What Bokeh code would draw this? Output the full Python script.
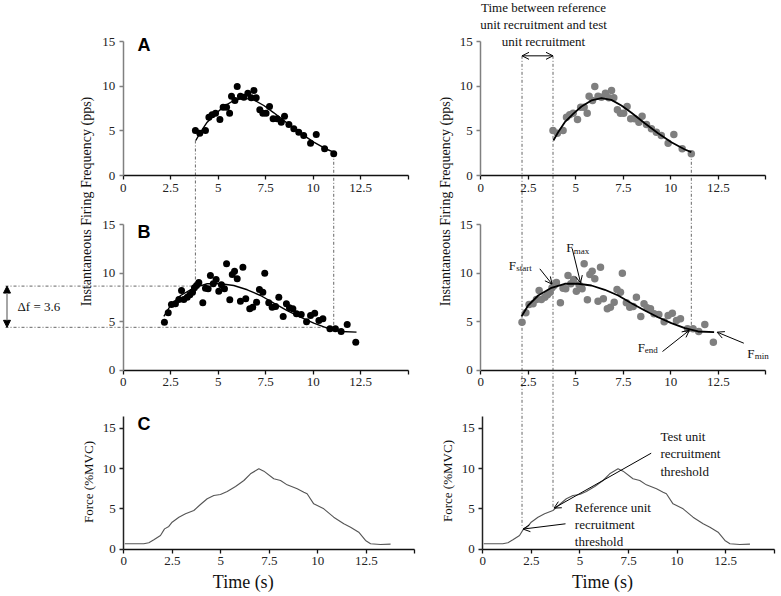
import numpy as np
from bokeh.plotting import figure
from bokeh.models import Range1d, LinearAxis, FixedTicker, Label, Arrow, OpenHead, NormalHead
from bokeh.embed import file_html
from bokeh.resources import INLINE

# ---------------- data ----------------
# test unit (panel A): time (s) and instantaneous firing frequency (pps)
test_t = [3.80, 4.03, 4.33, 4.51, 4.68, 4.86, 5.09, 5.26, 5.44, 5.60, 5.70, 5.88,
          6.00, 6.17, 6.35, 6.56, 6.74, 6.88, 7.00, 7.19, 7.35, 7.52, 7.70, 7.89,
          8.10, 8.32, 8.49, 8.72, 8.98, 9.24, 9.50, 9.86, 10.16, 10.60, 11.08]
test_f = [5.04, 4.74, 5.04, 6.53, 6.80, 6.98, 6.27, 7.65, 7.65, 6.98, 8.88, 8.40,
          9.97, 8.88, 8.77, 9.20, 8.70, 9.52, 8.70, 7.36, 6.98, 6.98, 7.73, 6.35,
          6.35, 5.97, 6.64, 5.71, 5.23, 4.85, 4.48, 3.62, 4.59, 2.99, 2.43]
test_fit_t = [3.82, 4.07, 4.42, 4.86, 5.30, 5.82, 6.35, 6.87, 7.40, 7.93, 8.63, 9.33, 10.03, 10.74, 11.08]
test_fit_f = [3.92, 4.85, 5.97, 6.90, 7.73, 8.40, 8.66, 8.47, 7.84, 7.02, 5.86, 4.74, 3.73, 2.91, 2.61]

# reference unit (panel B)
ref_t = [2.17, 2.37, 2.54, 2.75, 2.93, 3.07, 3.19, 3.37, 3.51, 3.65, 3.75, 3.86,
         3.98, 4.19, 4.33, 4.47, 4.59, 4.74, 4.89, 5.03, 5.17, 5.33, 5.44, 5.61,
         5.74, 5.86, 6.00, 6.17, 6.30, 6.45, 6.66, 6.82, 7.02, 7.17, 7.35, 7.45,
         7.66, 7.84, 8.02, 8.19, 8.42, 8.59, 8.75, 8.93, 9.12, 9.37, 9.65, 9.86,
         10.08, 10.30, 10.51, 10.88, 11.17, 11.47, 11.79, 12.24]
ref_f = [4.93, 5.90, 6.75, 6.82, 7.27, 8.20, 7.27, 7.51, 7.75, 8.02, 8.47, 8.71,
         9.02, 6.93, 8.43, 8.37, 9.74, 8.89, 9.33, 8.12, 8.78, 8.37, 10.95, 7.24,
         9.85, 10.19, 9.40, 7.09, 10.60, 7.34, 6.31, 6.47, 6.99, 8.30, 8.02, 9.98,
         6.93, 6.47, 6.55, 7.51, 5.52, 6.82, 6.41, 6.31, 5.79, 5.72, 4.97, 5.62,
         5.86, 5.10, 5.28, 4.25, 4.25, 3.97, 4.69, 2.87]
ref_fit_t = [2.14, 2.49, 3.02, 3.72, 4.42, 5.12, 5.82, 6.53, 7.23, 7.93, 8.63, 9.33, 10.03, 10.74, 11.44, 12.28]
ref_fit_f = [5.52, 6.65, 7.68, 8.47, 8.89, 8.89, 8.71, 8.27, 7.68, 6.89, 6.13, 5.44, 4.83, 4.31, 3.97, 3.90]

# force trace (panel C), %MVC
force_t = [0.05, 1.03, 1.29, 1.55, 1.89, 2.10, 2.32, 2.49, 2.84, 3.18, 3.61, 3.95,
           4.30, 4.64, 4.98, 5.33, 5.76, 6.19, 6.53, 6.96, 7.22, 7.73, 8.08, 8.42,
           8.94, 9.28, 9.45, 9.79, 10.31, 10.82, 11.34, 11.69, 12.11, 12.46, 12.72, 13.23, 13.75]
force_pct = [0.65, 0.65, 0.77, 1.14, 1.68, 2.50, 2.80, 3.33, 3.95, 4.37, 4.78, 5.53,
             6.24, 6.65, 6.77, 7.14, 7.76, 8.51, 9.34, 9.96, 9.67, 8.72, 8.51, 7.97,
             7.48, 7.06, 6.86, 5.61, 4.99, 3.95, 3.13, 2.71, 2.09, 1.06, 0.65, 0.56, 0.60]

x_ticks = [0, 2.5, 5, 7.5, 10, 12.5, 15]
y_ticks = [0, 5, 10, 15]
f_start = 8.65        # reference-unit rate at test-unit recruitment
f_end = 4.40          # reference-unit rate at test-unit derecruitment
delta_f_text = "Δf = 3.6"
ref_threshold = 2.6   # %MVC
test_threshold = 5.2  # %MVC
f_max_t, f_max = 5.25, 9.0

# ---------------- layout (page pixels; the figure sits at the page origin) ----------------
W, H = 780, 594
PX0, PY0 = 0, 0
COLS = {"L": {"ab": (122.7, 19.0), "c": (123.3, 19.4)},
        "R": {"ab": (480.3, 19.0), "c": (482.3, 19.43)}}
ROWS = {"A": (175.0, 8.93), "B": (369.5, 9.7), "C": (548.5, 8.05)}
YTOP = {"A": 15, "B": 15, "C": 16.4}
ARROW_LEVEL_A = 13.4
SERIF = "Liberation Serif"


def px(col, t, row="A"):
    x0, s = COLS[col]["c" if row == "C" else "ab"]
    return x0 + t * s


def py(row, v):
    y0, s = ROWS[row]
    return y0 - v * s


p = figure(width=W, height=H, output_backend="svg", toolbar_location=None,
           x_axis_location=None, y_axis_location=None, min_border=0,
           x_range=Range1d(PX0, PX0 + W), y_range=Range1d(PY0 + H, PY0),
           outline_line_color=None)
p.grid.visible = False

for col in "LR":
    for key in ("ab", "c"):
        x0, s = COLS[col][key]
        p.extra_x_ranges[f"x{col}{key}"] = Range1d((PX0 - x0) / s, (PX0 + W - x0) / s)
for row, (y0, s) in ROWS.items():
    p.extra_y_ranges[f"y{row}"] = Range1d((y0 - (PY0 + H)) / s, (y0 - PY0) / s)


def style_axis(ax, color, width):
    ax.axis_line_color = color
    ax.axis_line_width = width
    ax.major_tick_line_color = color
    ax.major_tick_line_width = width
    ax.major_tick_in = 0
    ax.major_tick_out = 4
    ax.minor_tick_line_color = None
    ax.major_label_text_font = SERIF
    ax.major_label_text_font_size = "13px"
    ax.major_label_text_color = "#222222"
    ax.major_label_standoff = 4


for col in "LR":
    for row in "ABC":
        xr = f"x{col}{'c' if row == 'C' else 'ab'}"
        yr = f"y{row}"
        xa = LinearAxis(x_range_name=xr, y_range_name=yr, fixed_location=0, bounds=(0, 15),
                        ticker=FixedTicker(ticks=x_ticks), major_label_overrides={15: ""})
        style_axis(xa, "#111111", 1.3)
        p.add_layout(xa, "below")
        ya = LinearAxis(x_range_name=xr, y_range_name=yr, fixed_location=0, bounds=(0, YTOP[row]),
                        ticker=FixedTicker(ticks=y_ticks))
        style_axis(ya, "#808080" if row != "C" else "#222222", 1.5)
        p.add_layout(ya, "left")

# ---------------- connectors (dash-dot guides) ----------------
cx0, cy0, cx1, cy1 = [], [], [], []


def conn(a, b, c, d):
    cx0.append(a); cy0.append(b); cx1.append(c); cy1.append(d)


LEFT_EDGE = 5
xs_l = px("L", test_t[0]); xe_l = px("L", test_t[-1])
conn(xs_l, py("A", test_fit_f[0]), xs_l, py("B", f_start))
conn(xe_l, py("A", test_f[-1]), xe_l, py("B", f_end))
conn(LEFT_EDGE, py("B", f_start), xs_l, py("B", f_start))
conn(LEFT_EDGE, py("B", f_end), xe_l, py("B", f_end))
top_y = py("A", ARROW_LEVEL_A)
xr0 = px("R", ref_t[0]); xr1 = px("R", test_t[0]); xr2 = px("R", test_t[-1])
conn(xr0, top_y, xr0, py("C", ref_threshold))
conn(xr1, top_y, xr1, py("C", test_threshold))
conn(xr2, py("A", test_f[-1]), xr2, py("B", f_end))
p.segment(cx0, cy0, cx1, cy1, line_color="#666666", line_width=1, line_dash="3 2 1 2")

# ---------------- data marks ----------------
for col, color, size, lw in (("L", "black", 7, 1.4), ("R", "#7f7f7f", 7.5, 1.8)):
    p.scatter(test_t, test_f, x_range_name=f"x{col}ab", y_range_name="yA",
              size=size, fill_color=color, line_color=None)
    p.line(test_fit_t, test_fit_f, x_range_name=f"x{col}ab", y_range_name="yA",
           line_color="black", line_width=lw)
    p.scatter(ref_t, ref_f, x_range_name=f"x{col}ab", y_range_name="yB",
              size=size, fill_color=color, line_color=None)
    p.line(ref_fit_t, ref_fit_f, x_range_name=f"x{col}ab", y_range_name="yB",
           line_color="black", line_width=lw)
    p.line(force_t, force_pct, x_range_name=f"x{col}c", y_range_name="yC",
           line_color="#555555", line_width=1.1)

# ---------------- text ----------------


def label(x, y, text, size="13px", font=SERIF, align="left", baseline="middle",
          angle=0, style="normal", color="#111111"):
    p.add_layout(Label(x=x, y=y, text=text, text_font=font, text_font_size=size,
                       text_align=align, text_baseline=baseline, angle=angle,
                       text_font_style=style, text_color=color, text_line_height=1.15))


for letter, yy in (("A", 44.3), ("B", 231), ("C", 423.5)):
    label(143.6, yy, letter, size="18px", font="Liberation Sans", align="center", style="bold",
          color="black")

for xc in (86, 445):
    label(xc, 201, "Instantaneous Firing Frequency (pps)", size="14px", align="center",
          angle=np.pi / 2)
label(88.3, 481.5, "Force (%MVC)", align="center", angle=np.pi / 2)
label(447.3, 480.5, "Force (%MVC)", align="center", angle=np.pi / 2)
label(242.7, 581.5, "Time (s)", size="18px", align="center")
label(602, 581.5, "Time (s)", size="18px", align="center")

label(543, 24, "Time between reference\nunit recruitment and test\nunit recruitment", align="center")
label(660, 453.3, "Test unit\nrecruitment\nthreshold")
label(574.3, 523.8, "Reference unit\nrecruitment\nthreshold")
label(17, py("B", (f_start + f_end) / 2), delta_f_text)

# F labels with subscripts
for fx, fy, sub, sx, sy in ((508.3, 265, "start", 515.7, 267.5),
                             (565.7, 247, "max", 573.3, 250),
                             (637.3, 347.3, "end", 644.3, 349.5),
                             (746.7, 353.3, "min", 754.3, 355.5)):
    label(fx, fy, "F", baseline="alphabetic")
    label(sx, sy, sub, size="9px", baseline="alphabetic")

# ---------------- arrows ----------------


def arrow(x0, y0, x1, y1, both=False, color="black", lw=1):
    h_end = OpenHead(size=7, line_width=1, line_color=color)
    h_start = OpenHead(size=7, line_width=1, line_color=color) if both else None
    p.add_layout(Arrow(x_start=x0, y_start=y0, x_end=x1, y_end=y1, start=h_start, end=h_end,
                       line_color=color, line_width=lw))


arrow(xr0, top_y, xr1, top_y, both=True)
p.add_layout(Arrow(x_start=6.5, y_start=py("B", f_start), x_end=6.5, y_end=py("B", f_end),
                   start=NormalHead(size=7, fill_color="black", line_color="black"),
                   end=NormalHead(size=7, fill_color="black", line_color="black"),
                   line_color="#888888", line_width=1.5))
arrow(539.3, 268.3, px("R", test_t[0]) - 1, py("B", f_start) - 2)
arrow(571.7, 248, px("R", f_max_t), py("B", f_max))
arrow(662, 351, px("R", test_t[-1]) - 2, py("B", f_end) + 3)
arrow(743.3, 342.7, px("R", ref_fit_t[-1]) + 3, py("B", ref_fit_f[-1]))
arrow(650.7, 452.7, xr1 + 1, py("C", test_threshold) + 1)
arrow(565, 523.3, xr0 + 1, py("C", ref_threshold) + 1)

open("out.html", "w").write(file_html(p, INLINE))
